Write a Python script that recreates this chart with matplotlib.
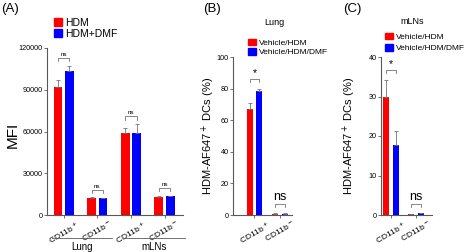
import matplotlib
matplotlib.use("Agg")
import matplotlib.pyplot as plt
import matplotlib.patches as mpatches
import numpy as np

plt.rcParams['font.family'] = ['Liberation Sans', 'DejaVu Sans']

RED = "#ff0000"
BLUE = "#0000ff"

# Panel A: MFI
a_groups = ["CD11b$^+$", "CD11b$^-$", "CD11b$^+$", "CD11b$^-$"]
a_hdm = [92300, 12500, 59000, 13000]
a_hdm_err = [4600, 400, 3300, 400]
a_dmf = [103400, 12000, 59000, 13500]
a_dmf_err = [3900, 300, 6500, 400]
a_sig = ["ns", "ns", "ns", "ns"]
a_yticks = [0, 30000, 60000, 90000, 120000]
a_tissues = ["Lung", "mLNs"]

# Panel B: Lung, % HDM-AF647+ DCs
b_groups = ["CD11b$^+$", "CD11b$^-$"]
b_veh = [67, 0.8]
b_veh_err = [4, 0.2]
b_dmf = [78.5, 0.9]
b_dmf_err = [1.5, 0.2]
b_sig = ["*", "ns"]
b_yticks = [0, 20, 40, 60, 80, 100]

# Panel C: mLNs
c_groups = ["CD11b$^+$", "CD11b$^-$"]
c_veh = [30, 0.2]
c_veh_err = [4.3, 0.1]
c_dmf = [17.6, 0.4]
c_dmf_err = [3.6, 0.1]
c_sig = ["*", "ns"]
c_yticks = [0, 10, 20, 30, 40]

W, H = 467, 252
fig = plt.figure(figsize=(W / 100, H / 100), dpi=100)


def px_axes(left, right, bottom, top):
    return fig.add_axes([left / W, 1 - bottom / H, (right - left) / W, (bottom - top) / H])


def style(ax, yticks, fs):
    for s in ["top", "right"]:
        ax.spines[s].set_visible(False)
    for s in ["left", "bottom"]:
        ax.spines[s].set_color("0.35")
        ax.spines[s].set_linewidth(0.8)
    ax.set_yticks(yticks)
    ax.set_ylim(0, yticks[-1])
    ax.tick_params(axis="y", labelsize=5.2, length=2, width=0.6, pad=1, colors="0.35", labelcolor="black")
    ax.tick_params(axis="x", labelsize=fs, length=2, width=0.6, pad=1, colors="0.35", labelcolor="black")


def bars(ax, v1, e1, v2, e2, off, bw, labels, fs):
    x = np.arange(len(v1))
    ax.bar(x - off, v1, bw, color=RED, zorder=2)
    ax.bar(x + off, v2, bw, color=BLUE, zorder=2)
    ax.errorbar(x - off, v1, yerr=[np.zeros(len(e1)), e1], fmt="none",
                ecolor="0.45", elinewidth=0.6, capsize=1.5, capthick=0.6, zorder=3)
    ax.errorbar(x + off, v2, yerr=[np.zeros(len(e2)), e2], fmt="none",
                ecolor="0.45", elinewidth=0.6, capsize=1.5, capthick=0.6, zorder=3)
    ax.set_xticks(x)
    ax.set_xticklabels(labels, rotation=30, ha="center", fontsize=fs)
    return x


def brackets(ax, x, v1, e1, v2, e2, off, marks, pad, fs_list):
    ymax = ax.get_ylim()[1]
    for i, m in enumerate(marks):
        top = max(v1[i] + e1[i], v2[i] + e2[i]) + pad * ymax
        tick = 0.02 * ymax
        ax.plot([x[i] - off, x[i] - off, x[i] + off, x[i] + off],
                [top - tick, top, top, top - tick], color="0.45", lw=0.6, clip_on=False)
        ax.text(x[i], top + 0.005 * ymax, m, ha="center", va="bottom",
                fontsize=fs_list[i], clip_on=False)


# ---------- Panel A ----------
axA = px_axes(47, 183, 215, 48)
style(axA, a_yticks, 6)
xa = bars(axA, a_hdm, a_hdm_err, a_dmf, a_dmf_err, 0.17, 0.26, a_groups, 6)
axA.set_xlim(-0.5, 3.55)
axA.set_ylabel("MFI", fontsize=11)
axA.yaxis.set_label_coords(-0.2, 0.48)
brackets(axA, xa, a_hdm, a_hdm_err, a_dmf, a_dmf_err, 0.17, a_sig, 0.045, [4.5] * 4)
trA = matplotlib.transforms.blended_transform_factory(axA.transData, axA.transAxes)
for (lo, hi), name in zip([(-0.35, 1.45), (1.8, 3.6)], a_tissues):
    axA.plot([lo, hi], [-0.14, -0.14], color="0.35", lw=0.6, transform=trA, clip_on=False)
    axA.text((lo + hi) / 2, -0.16, name, transform=trA, ha="center", va="top", fontsize=7)
axA.legend(handles=[mpatches.Patch(color=RED, label="HDM"),
                    mpatches.Patch(color=BLUE, label="HDM+DMF")],
           loc="upper left", bbox_to_anchor=(54 / W, 1 - 17.5 / H), bbox_transform=fig.transFigure,
           frameon=False, fontsize=7.5, handlelength=0.75, handleheight=0.75,
           handletextpad=0.35, labelspacing=0.12, borderpad=0, borderaxespad=0)

# ---------- Panel B ----------
axB = px_axes(233, 292, 215, 57)
style(axB, b_yticks, 6)
xb = bars(axB, b_veh, b_veh_err, b_dmf, b_dmf_err, 0.18, 0.235, b_groups, 6)
axB.set_xlim(-0.84, 1.47)
axB.set_ylabel("HDM-AF647$^+$ DCs (%)", fontsize=8)
axB.yaxis.set_label_coords(-0.27, 0.5)
brackets(axB, xb, b_veh, b_veh_err, b_dmf, b_dmf_err, 0.18, b_sig, 0.06, [7.5, 9])
axB.set_title("Lung", fontsize=6.5, pad=23, x=0.7)
axB.legend(handles=[mpatches.Patch(color=RED, label="Vehicle/HDM"),
                    mpatches.Patch(color=BLUE, label="Vehicle/HDM/DMF")],
           loc="upper left", bbox_to_anchor=(248 / W, 1 - 38.5 / H), bbox_transform=fig.transFigure,
           frameon=False, fontsize=6, handlelength=0.9, handleheight=0.9,
           handletextpad=0.4, labelspacing=0.1, borderpad=0, borderaxespad=0)

# ---------- Panel C ----------
axC = px_axes(381, 432, 215, 57)
style(axC, c_yticks, 6)
xc = bars(axC, c_veh, c_veh_err, c_dmf, c_dmf_err, 0.2, 0.24, c_groups, 6)
axC.set_xlim(-0.4, 1.64)
axC.set_ylabel("HDM-AF647$^+$ DCs (%)", fontsize=8)
axC.yaxis.set_label_coords(-0.45, 0.5)
brackets(axC, xc, c_veh, c_veh_err, c_dmf, c_dmf_err, 0.2, c_sig, 0.06, [7.5, 9])
axC.set_title("mLNs", fontsize=6.5, pad=24, x=0.62)
axC.legend(handles=[mpatches.Patch(color=RED, label="Vehicle/HDM"),
                    mpatches.Patch(color=BLUE, label="Vehicle/HDM/DMF")],
           loc="upper left", bbox_to_anchor=(385 / W, 1 - 32.5 / H), bbox_transform=fig.transFigure,
           frameon=False, fontsize=6, handlelength=0.9, handleheight=0.9,
           handletextpad=0.4, labelspacing=0.35, borderpad=0, borderaxespad=0)

# panel letters
fig.text(1 / W, 1 - 9 / H, "(A)", fontsize=9.5, va="center", ha="left")
fig.text(203 / W, 1 - 9 / H, "(B)", fontsize=9.5, va="center", ha="left")
fig.text(343 / W, 1 - 9 / H, "(C)", fontsize=9.5, va="center", ha="left")

fig.savefig("out.png", dpi=100)
